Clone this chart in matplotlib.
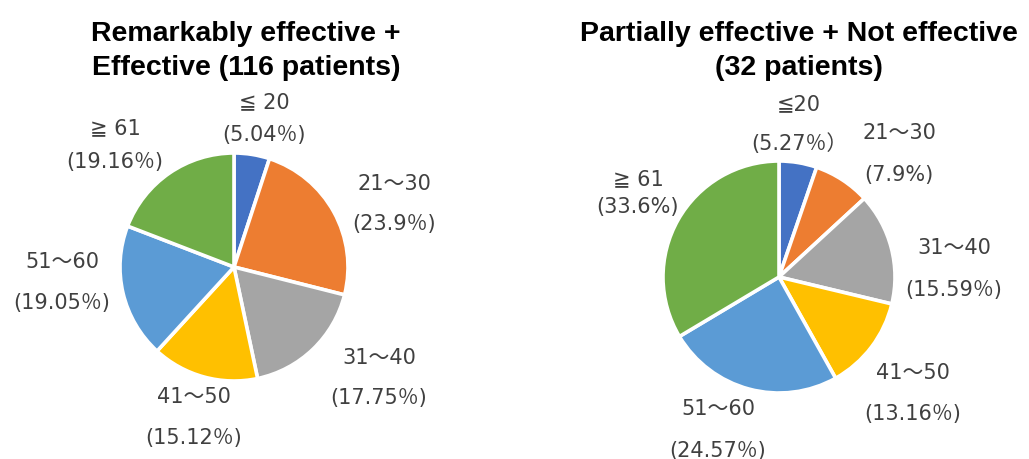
import matplotlib.pyplot as plt

W, H = 1029, 460

# age-group shares (%) for the two outcome groups
left_groups = ['≦ 20', '21～30', '31～40', '41～50', '51～60', '≧ 61']
left_values = [5.04, 23.9, 17.75, 15.12, 19.05, 19.16]

right_groups = ['≦20', '21～30', '31～40', '41～50', '51～60', '≧ 61']
right_values = [5.27, 7.9, 15.59, 13.16, 24.57, 33.6]

titles = ['Remarkably effective +\nEffective (116 patients)',
          'Partially effective + Not effective\n(32 patients)']

colors = ['#4472C4', '#ED7D31', '#A5A5A5', '#FFC000', '#5B9BD5', '#70AD47']

# layout in pixels from the top-left corner
pies = [dict(center=(234, 268), radius=114, title_x=246),
        dict(center=(779, 278), radius=116, title_x=799)]

# (x, y of group line, y of percent line, percent format)
left_pos = [(264, 102, 135, '({}％)'),
            (394, 184, 224, '({}％)'),
            (379, 358, 398, '({}％)'),
            (194, 397, 438, '({}％)'),
            (62, 262, 303, '({}％)'),
            (115, 128, 162, '({}％)')]
right_pos = [(799, 104, 144, '({}％）'),
             (899, 133, 175, '({}%)'),
             (954, 248, 290, '({}％)'),
             (913, 373, 414, '({}％)'),
             (718, 409, 451, '({}％)'),
             (638, 179, 207, '({}%)')]

label_font = ['DejaVu Sans', 'Noto Sans CJK JP']
text_color = '#404040'

fig = plt.figure(figsize=(W / 100, H / 100), dpi=100)
ax = fig.add_axes([0, 0, 1, 1])

for pie, title, groups, values, pos in zip(
        pies, titles, [left_groups, right_groups],
        [left_values, right_values], [left_pos, right_pos]):
    cx, cy = pie['center']
    ax.pie(values, colors=colors, startangle=90, counterclock=False,
           center=(cx, H - cy), radius=pie['radius'],
           wedgeprops=dict(edgecolor='white', linewidth=2.6))
    ax.text(pie['title_x'], H - 51, title, ha='center', va='center',
            family='Liberation Sans', weight='bold', fontsize=20.5,
            linespacing=1.38)
    for g, v, (x, y1, y2, fmt) in zip(groups, values, pos):
        ax.text(x, H - y1, g, ha='center', va='center', family=label_font,
                fontsize=15, color=text_color)
        ax.text(x, H - y2, fmt.format(v), ha='center', va='center',
                family=label_font, fontsize=15, color=text_color)

ax.set_xlim(0, W)
ax.set_ylim(0, H)
ax.set_aspect('auto')
ax.axis('off')

fig.savefig('out.png', dpi=100)
